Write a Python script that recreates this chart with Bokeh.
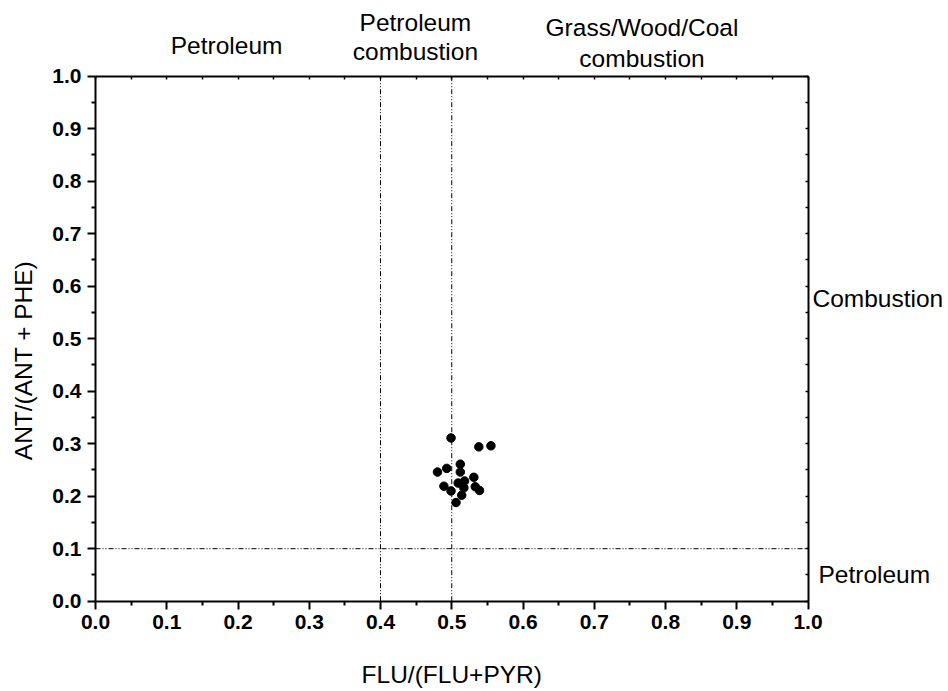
from bokeh.plotting import figure
from bokeh.models import (Range1d, LinearAxis, FixedTicker, PrintfTickFormatter,
                          CustomJSTickFormatter, Label, ColumnDataSource)
from bokeh.embed import file_html
from bokeh.resources import INLINE

# Data
flu_ratio = [0.499, 0.538, 0.555, 0.512, 0.493, 0.480, 0.512, 0.531, 0.518,
             0.509, 0.489, 0.533, 0.517, 0.499, 0.539, 0.514, 0.506]
ant_ratio = [0.311, 0.294, 0.296, 0.261, 0.253, 0.246, 0.246, 0.236, 0.229,
             0.225, 0.219, 0.218, 0.216, 0.210, 0.211, 0.202, 0.188]

major_ticks = [0.0, 0.1, 0.2, 0.3, 0.4, 0.5, 0.6, 0.7, 0.8, 0.9, 1.0]
minor_ticks = [0.05, 0.15, 0.25, 0.35, 0.45, 0.55, 0.65, 0.75, 0.85, 0.95]
x_thresholds = [0.4, 0.5]
y_threshold = 0.1

FONT = "Liberation Sans"
LBL = "24.5px"

W, H = 946, 689
X0PX, XSC = 95.0, 712.5     # pixel of x=0, pixels per unit
Y0PX, YSC = 600.7, 525.0    # pixel of y=0, pixels per unit

p = figure(width=W, height=H, output_backend="svg", toolbar_location=None,
           x_range=Range1d(-X0PX / XSC, (W - X0PX) / XSC),
           y_range=Range1d(-(H - Y0PX) / YSC, Y0PX / YSC),
           x_axis_location=None, y_axis_location=None,
           min_border=0, min_border_left=0, min_border_right=0,
           min_border_top=0, min_border_bottom=0)
p.grid.visible = False
p.outline_line_color = None
p.background_fill_color = "white"
p.border_fill_color = "white"


def main_axis(loc):
    ax = LinearAxis(ticker=FixedTicker(ticks=major_ticks, minor_ticks=minor_ticks),
                    formatter=PrintfTickFormatter(format="%.1f"))
    ax.fixed_location = 0
    ax.bounds = (0, 1)
    ax.axis_line_width = 2
    ax.major_tick_line_width = 2
    ax.minor_tick_line_width = 2
    ax.major_tick_out = 8
    ax.major_tick_in = 0
    ax.minor_tick_out = 4
    ax.minor_tick_in = 0
    ax.major_label_text_font = FONT
    ax.major_label_text_font_style = "bold"
    ax.major_label_text_font_size = "21px"
    ax.major_label_text_color = "black"
    ax.major_label_standoff = 6
    p.add_layout(ax, loc)


def plain_axis(loc):
    ax = LinearAxis(ticker=FixedTicker(ticks=major_ticks, minor_ticks=minor_ticks),
                    formatter=CustomJSTickFormatter(code="return '';"))
    ax.fixed_location = 1
    ax.bounds = (0, 1)
    ax.axis_line_width = 2
    ax.major_tick_in = 3
    ax.major_tick_out = 0
    ax.minor_tick_in = 3
    ax.minor_tick_out = 0
    ax.major_tick_line_width = 1.5
    ax.minor_tick_line_width = 1.5
    ax.major_label_standoff = 0
    p.add_layout(ax, loc)


main_axis("below")
main_axis("left")
plain_axis("above")
plain_axis("right")

dash = "5 2 1 2 1 2"
p.segment(x0=x_thresholds, y0=[0, 0], x1=x_thresholds, y1=[1, 1],
          line_color="black", line_width=1, line_dash=dash)
p.segment(x0=[0], y0=[y_threshold], x1=[1], y1=[y_threshold],
          line_color="black", line_width=1, line_dash=dash)

src = ColumnDataSource(dict(x=flu_ratio, y=ant_ratio))
p.scatter("x", "y", source=src, size=8.5, fill_color="black", line_color="black")


def lab(x, y, t, align="center", angle=0):
    p.add_layout(Label(x=x, y=y, text=t, text_font=FONT, text_font_size=LBL,
                       text_align=align, text_baseline="middle", angle=angle,
                       text_color="black"))


lab(0.184, 1.0585, "Petroleum")
lab(0.449, 1.1023, "Petroleum")
lab(0.449, 1.0463, "combustion")
lab(0.767, 1.0928, "Grass/Wood/Coal")
lab(0.767, 1.0336, "combustion")
lab(1.0063, 0.5766, "Combustion", align="left")
lab(1.0147, 0.0509, "Petroleum", align="left")
lab(0.5, -0.1396, "FLU/(FLU+PYR)")
lab(-0.101, 0.4585, "ANT/(ANT + PHE)", angle=1.5707963)

open("out.html", "w").write(file_html(p, INLINE))
